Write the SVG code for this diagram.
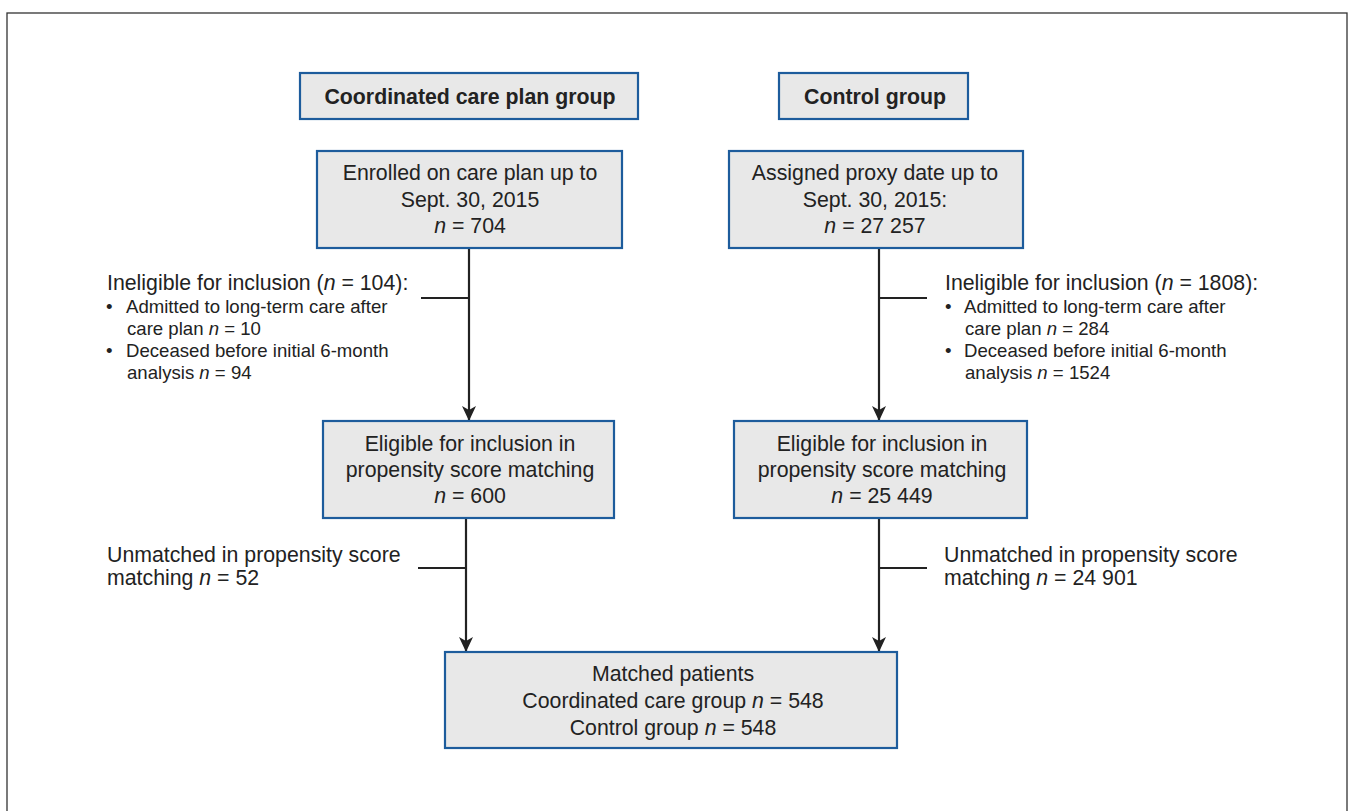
<svg xmlns="http://www.w3.org/2000/svg" width="1353" height="811" viewBox="0 0 1353 811">
<defs>
<style>
.box{fill:#e8e8e8;stroke:#1d5c9c;stroke-width:2.2}
.t{font-family:"Liberation Sans",Arial,sans-serif;font-size:21.3px;fill:#222}
.c{text-anchor:middle}
.b{font-weight:bold}
.s{font-family:"Liberation Sans",Arial,sans-serif;font-size:18.6px;fill:#222}
.i{font-style:italic}
.ln{stroke:#222;stroke-width:2.2;fill:none}
</style>
<marker id="ah" viewBox="0 -8 15 16" refX="15" refY="0" markerWidth="15" markerHeight="16" markerUnits="userSpaceOnUse" orient="auto">
<path d="M0,-7 L15,0 L0,7 L4,0 Z" fill="#222"/>
</marker>
</defs>
<rect x="0" y="0" width="1353" height="811" fill="#fff"/>
<rect id="frame" x="7" y="13" width="1340" height="820" fill="none" stroke="#333" stroke-width="1.3"/>

<g id="connectors">
<line class="ln" x1="469" y1="248" x2="469" y2="421" marker-end="url(#ah)"/>
<line class="ln" x1="421" y1="298" x2="469" y2="298"/>
<line class="ln" x1="879" y1="248" x2="879" y2="421" marker-end="url(#ah)"/>
<line class="ln" x1="879" y1="298" x2="927" y2="298"/>
<line class="ln" x1="466" y1="518" x2="466" y2="652" marker-end="url(#ah)"/>
<line class="ln" x1="418" y1="568" x2="466" y2="568"/>
<line class="ln" x1="879" y1="518" x2="879" y2="652" marker-end="url(#ah)"/>
<line class="ln" x1="879" y1="568" x2="927" y2="568"/>
</g>

<g id="hdr-ccp">
<rect class="box" x="300" y="73" width="338" height="46"/>
<text class="t c b" x="470" y="104">Coordinated care plan group</text>
</g>
<g id="hdr-ctrl">
<rect class="box" x="779" y="73" width="189" height="46"/>
<text class="t c b" x="875" y="104">Control group</text>
</g>

<g id="enrolled">
<rect class="box" x="317" y="151" width="305" height="97"/>
<text class="t c" x="470" y="180">Enrolled on care plan up to</text>
<text class="t c" x="470" y="207">Sept. 30, 2015</text>
<text class="t c" x="470" y="233"><tspan class="i">n</tspan> = 704</text>
</g>
<g id="assigned">
<rect class="box" x="729" y="151" width="294" height="97"/>
<text class="t c" x="875" y="180">Assigned proxy date up to</text>
<text class="t c" x="875" y="207">Sept. 30, 2015:</text>
<text class="t c" x="875" y="233"><tspan class="i">n</tspan> = 27 257</text>
</g>

<g id="inelig-left">
<text class="t" x="107" y="290">Ineligible for inclusion (<tspan class="i">n</tspan> = 104):</text>
<text class="s" x="106" y="313">•</text>
<text class="s" x="126" y="313">Admitted to long-term care after</text>
<text class="s" x="127" y="335">care plan <tspan class="i">n</tspan> = 10</text>
<text class="s" x="106" y="357">•</text>
<text class="s" x="126" y="357">Deceased before initial 6-month</text>
<text class="s" x="127" y="379">analysis <tspan class="i">n</tspan> = 94</text>
</g>
<g id="inelig-right">
<text class="t" x="945" y="290">Ineligible for inclusion (<tspan class="i">n</tspan> = 1808):</text>
<text class="s" x="945" y="313">•</text>
<text class="s" x="964" y="313">Admitted to long-term care after</text>
<text class="s" x="965" y="335">care plan <tspan class="i">n</tspan> = 284</text>
<text class="s" x="945" y="357">•</text>
<text class="s" x="964" y="357">Deceased before initial 6-month</text>
<text class="s" x="965" y="379">analysis <tspan class="i">n</tspan> = 1524</text>
</g>

<g id="elig-left">
<rect class="box" x="323" y="421" width="291" height="97"/>
<text class="t c" x="470" y="451">Eligible for inclusion in</text>
<text class="t c" x="470" y="477">propensity score matching</text>
<text class="t c" x="470" y="503"><tspan class="i">n</tspan> = 600</text>
</g>
<g id="elig-right">
<rect class="box" x="734" y="421" width="293" height="97"/>
<text class="t c" x="882" y="451">Eligible for inclusion in</text>
<text class="t c" x="882" y="477">propensity score matching</text>
<text class="t c" x="882" y="503"><tspan class="i">n</tspan> = 25 449</text>
</g>

<g id="unmatched-left">
<text class="t" x="107" y="562">Unmatched in propensity score</text>
<text class="t" x="107" y="585">matching <tspan class="i">n</tspan> = 52</text>
</g>
<g id="unmatched-right">
<text class="t" x="944" y="562">Unmatched in propensity score</text>
<text class="t" x="944" y="585">matching <tspan class="i">n</tspan> = 24 901</text>
</g>

<g id="matched">
<rect class="box" x="445" y="652" width="452" height="96"/>
<text class="t c" x="673" y="681">Matched patients</text>
<text class="t c" x="673" y="708">Coordinated care group <tspan class="i">n</tspan> = 548</text>
<text class="t c" x="673" y="735">Control group <tspan class="i">n</tspan> = 548</text>
</g>
</svg>
